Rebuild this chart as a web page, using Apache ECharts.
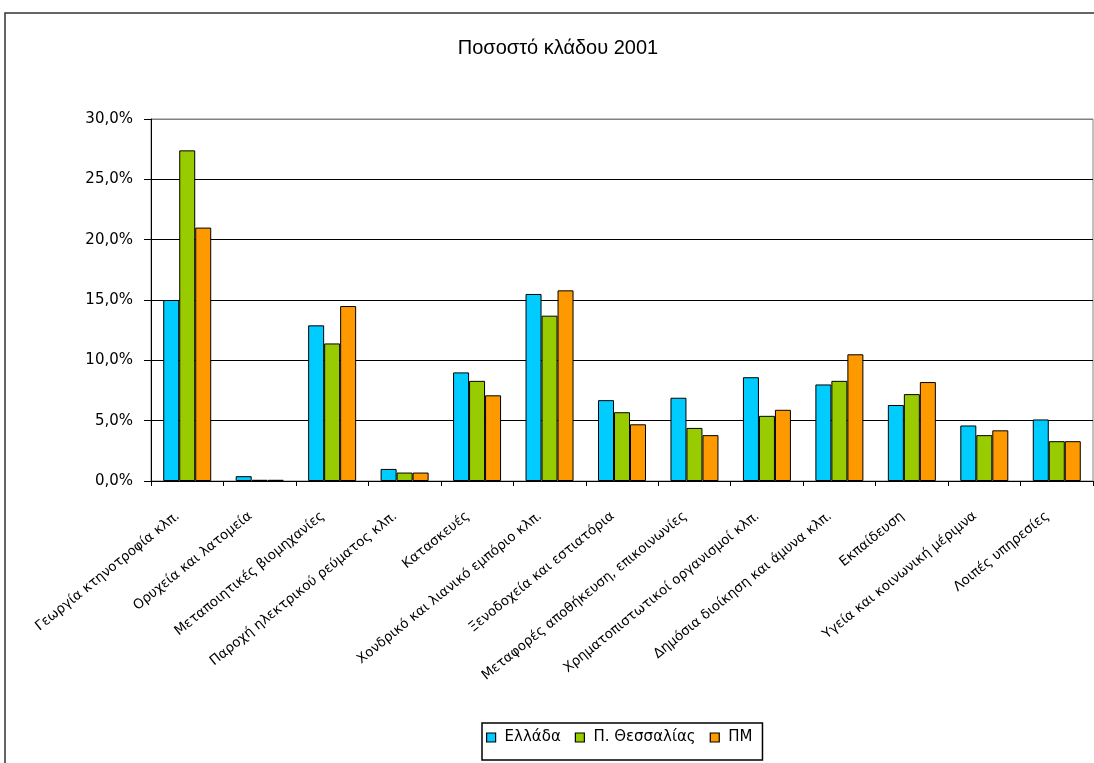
<!DOCTYPE html>
<html>
<head>
<meta charset="utf-8">
<script src="https://cdn.jsdelivr.net/npm/echarts@6/dist/echarts.min.js"></script>
<style>
  html, body { margin: 0; padding: 0; background: #fff; }
  #chart { width: 1094px; height: 763px; }
</style>
</head>
<body>
<div id="chart"></div>
<script>
// κλάδοι
const categories = [
  'Γεωργία κτηνοτροφία κλπ.',
  'Ορυχεία και λατομεία',
  'Μεταποιητικές βιομηχανίες',
  'Παροχή ηλεκτρικού ρεύματος κλπ.',
  'Κατασκευές',
  'Χονδρικό και λιανικό εμπόριο κλπ.',
  'Ξενοδοχεία και εστιατόρια',
  'Μεταφορές αποθήκευση, επικοινωνίες',
  'Χρηματοπιστωτικοί οργανισμοί κλπ.',
  'Δημόσια διοίκηση και άμυνα κλπ.',
  'Εκπαίδευση',
  'Υγεία και κοινωνική μέριμνα',
  'Λοιπές υπηρεσίες'
]

// ποσοστά (%)
const ellada = [15.0, 0.4, 12.9, 1.0, 9.0, 15.5, 6.7, 6.9, 8.6, 8.0, 6.3, 4.6, 5.1]
const thessalia = [27.4, 0.1, 11.4, 0.7, 8.3, 13.7, 5.7, 4.4, 5.4, 8.3, 7.2, 3.8, 3.3]
const pm = [21.0, 0.1, 14.5, 0.7, 7.1, 15.8, 4.7, 3.8, 5.9, 10.5, 8.2, 4.2, 3.3]

const seriesNames = ['Ελλάδα', 'Π. Θεσσαλίας', 'ΠΜ']
const colors = ['#00ccff', '#99cc00', '#ff9900']

const chart = echarts.init(document.getElementById('chart'))

const makeBar = (name, data, color) => ({
  name: name,
  type: 'bar',
  data: data,
  barWidth: 16,
  barGap: '0%',
  itemStyle: {
    color: color,
    borderColor: '#000',
    borderWidth: 1
  }
})

chart.setOption({
  animation: false,
  title: {
    text: 'Ποσοστό κλάδου 2001',
    left: 553,
    top: 33,
    textAlign: 'center',
    textStyle: {
      fontFamily: 'Liberation Sans, sans-serif',
      fontSize: 20,
      fontWeight: 'normal',
      color: '#000'
    }
  },
  graphic: [
    {
      type: 'rect',
      shape: { x: 5, y: 13, width: 1100, height: 760 },
      style: { fill: 'none', stroke: '#333', lineWidth: 1.5 },
      silent: true
    }
  ],
  legend: {
    data: seriesNames,
    left: 482,
    top: 723,
    itemWidth: 9,
    itemHeight: 9,
    itemGap: 14,
    padding: [7, 10, 15, 4],
    borderColor: '#000',
    borderWidth: 1.5,
    icon: 'rect',
    itemStyle: { borderColor: '#000', borderWidth: 1.2 },
    textStyle: {
      fontFamily: 'DejaVu Sans, sans-serif',
      fontSize: 15,
      color: '#000',
      padding: [0, 0, 0, 4]
    }
  },
  grid: {
    left: 151,
    right: 1,
    top: 119,
    bottom: 282,
    show: true,
    borderColor: '#808080',
    borderWidth: 1
  },
  xAxis: {
    type: 'category',
    data: categories,
    axisLine: { lineStyle: { color: '#000', width: 1 } },
    axisTick: { show: true, length: 5, lineStyle: { color: '#000' } },
    axisLabel: {
      interval: 0,
      rotate: 39,
      margin: 26,
      padding: [0, 12, 0, 0],
      fontFamily: 'DejaVu Sans, sans-serif',
      fontSize: 13.5,
      color: '#000'
    }
  },
  yAxis: {
    type: 'value',
    min: 0,
    max: 30,
    interval: 5,
    axisLine: { show: true, lineStyle: { color: '#000', width: 1 } },
    axisTick: { show: true, length: 7, lineStyle: { color: '#000' } },
    splitLine: {
      lineStyle: {
        color: ['#000', '#000', '#000', '#000', '#000', '#000', '#808080'],
        width: 1
      }
    },
    axisLabel: {
      margin: 18,
      fontFamily: 'DejaVu Sans, sans-serif',
      fontSize: 15,
      color: '#000',
      formatter: (v) => v.toFixed(1).replace('.', ',') + '%'
    }
  },
  series: [
    makeBar(seriesNames[0], ellada, colors[0]),
    makeBar(seriesNames[1], thessalia, colors[1]),
    makeBar(seriesNames[2], pm, colors[2])
  ]
})
</script>
</body>
</html>
